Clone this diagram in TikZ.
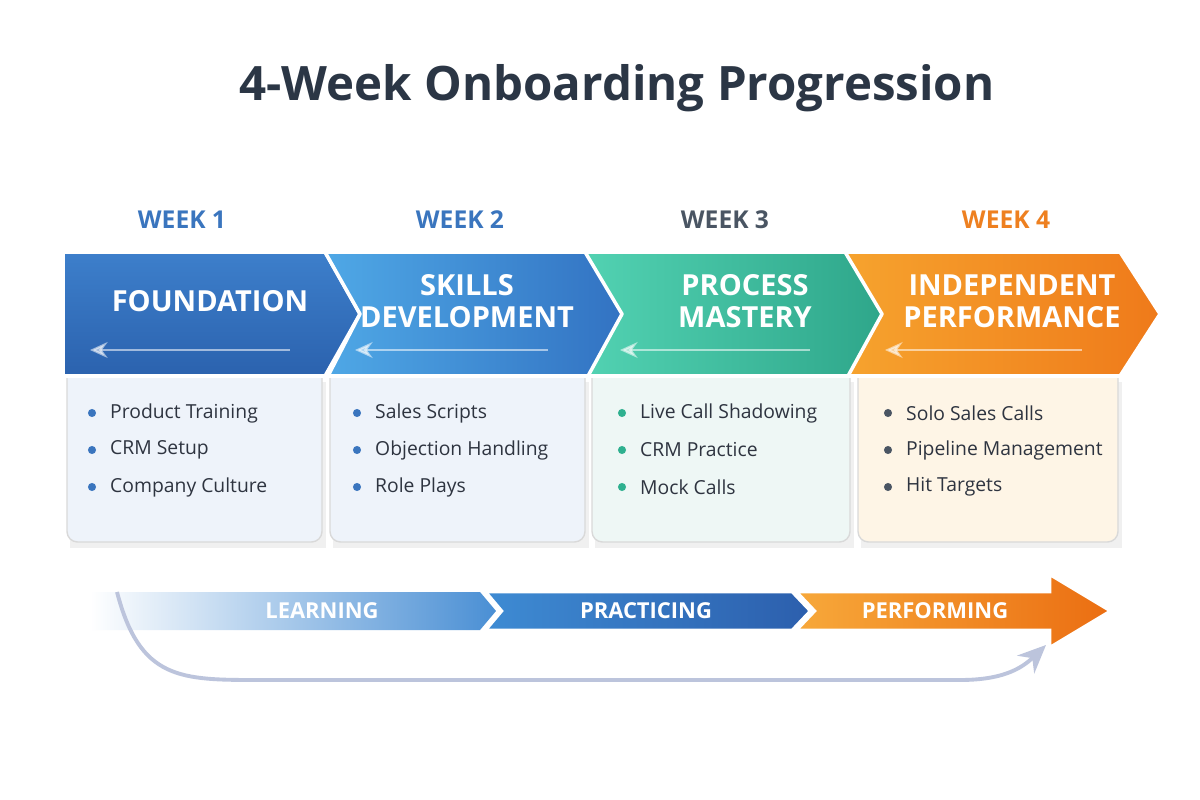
\documentclass[tikz,border=0pt]{standalone}
\usepackage{fontspec}
\setmainfont{Open Sans}
\usetikzlibrary{arrows.meta}
\definecolor{titlec}{HTML}{2B3645}
\definecolor{txt}{HTML}{2E3440}
\definecolor{wblue}{HTML}{3A75BE}
\definecolor{wgray}{HTML}{4A5563}
\definecolor{worange}{HTML}{EE8020}
\definecolor{wgreen}{HTML}{2EB08F}
\definecolor{bx1}{HTML}{EEF3FA}
\definecolor{bx3}{HTML}{EEF7F5}
\definecolor{bx4}{HTML}{FEF5E6}
\definecolor{c1a}{HTML}{3D7FCB}\definecolor{c1b}{HTML}{2B62AE}
\definecolor{c2a}{HTML}{4FA8E6}\definecolor{c2b}{HTML}{3272C2}
\definecolor{c3a}{HTML}{52D2B2}\definecolor{c3b}{HTML}{2EA68A}
\definecolor{c4a}{HTML}{F6A32E}\definecolor{c4b}{HTML}{EF7A1A}
\definecolor{l1}{HTML}{4A8FD4}
\definecolor{p1}{HTML}{3E8BD3}\definecolor{p2}{HTML}{2C5FAD}
\definecolor{f1}{HTML}{F7A83A}\definecolor{f2}{HTML}{EB6E12}
\definecolor{curvec}{HTML}{BCC4DC}
\tikzset{
  x=0.02cm,y=-0.02cm,
  wk/.style={font=\bfseries\fontsize{14}{16}\selectfont},
  chtxt/.style={text=white,font=\bfseries\fontsize{16.5}{18}\selectfont,align=center},
  item/.style={anchor=west,text=txt,font=\fontsize{11}{13}\selectfont},
  box/.style={draw=black!15,line width=0.8pt,rounded corners=6pt},
  chev/.style={draw=white,line width=2pt,line join=round},
  inarr/.style={draw=white,opacity=0.55,line width=1.3pt,-{Stealth[length=10pt,width=9pt]}},
  band/.style={draw=white,line width=1.5pt},
  bandtxt/.style={text=white,font=\bfseries\fontsize{12.5}{14}\selectfont},
}
\begin{document}
\begin{tikzpicture}
\useasboundingbox[fill=white] (0,0) rectangle (1200,800);
\node[text=titlec,font=\bfseries\fontsize{27}{32}\selectfont] (title) at (617,88) {4-Week Onboarding Progression};
\node[wk,text=wblue] (w1) at (182,220) {WEEK 1};
\node[wk,text=wblue] (w2) at (460,220) {WEEK 2};
\node[wk,text=wgray] (w3) at (725,220) {WEEK 3};
\node[wk,text=worange] (w4) at (1006,220) {WEEK 4};
\foreach \a/\b in {67/322,330/585,592/850,858/1118}
  \fill[black!6] (\a+3,382) rectangle (\b+4,548);
\draw[box,fill=bx1] (67,360) rectangle (322,542);
\draw[box,fill=bx1] (330,360) rectangle (585,542);
\draw[box,fill=bx3] (592,360) rectangle (850,542);
\draw[box,fill=bx4] (858,360) rectangle (1118,542);
\shade[top color=c1a,bottom color=c1b] (65,252)--(325,252)--(360,314)--(325,376)--(65,376)--cycle;
\draw[chev] (65,252)--(325,252)--(360,314)--(325,376)--(65,376);
\shade[left color=c2a,right color=c2b] (325,252)--(590,252)--(625,314)--(590,376)--(328,376)--(360,314)--cycle;
\draw[chev] (325,252)--(590,252)--(625,314)--(590,376)--(328,376)--(360,314)--cycle;
\shade[left color=c3a,right color=c3b] (585,252)--(850,252)--(885,314)--(850,376)--(588,376)--(622,314)--cycle;
\draw[chev] (585,252)--(850,252)--(885,314)--(850,376)--(588,376)--(622,314)--cycle;
\shade[left color=c4a,right color=c4b] (845,252)--(1120,252)--(1160,314)--(1120,376)--(848,376)--(882,314)--cycle;
\draw[chev] (845,252)--(1120,252)--(1160,314)--(1120,376)--(848,376)--(882,314)--cycle;
\node[chtxt] (c1) at (210,301) {FOUNDATION};
\node[chtxt] (c2) at (467,301) {SKILLS\\[0pt]DEVELOPMENT};
\node[chtxt] (c3) at (745,301) {PROCESS\\[0pt]MASTERY};
\node[chtxt] (c4) at (1012,301) {INDEPENDENT\\[0pt]PERFORMANCE};
\foreach \s/\e in {290/90, 548/355, 810/620, 1082/885}{
  \coordinate (as\s) at (\s,350); \coordinate (ae\s) at (\e,350);
  \draw[inarr] (as\s) -- (ae\s);}
\foreach \x/\c/\i/\j/\k in {
 92/wblue/Product Training/CRM Setup/Company Culture,
 357/wblue/Sales Scripts/Objection Handling/Role Plays,
 622/wgreen/Live Call Shadowing/CRM Practice/Mock Calls,
 888/wgray/Solo Sales Calls/Pipeline Management/Hit Targets}{
  \fill[\c] (\x,413) circle (2.3pt);
  \fill[\c] (\x,450) circle (2.3pt);
  \fill[\c] (\x,487) circle (2.3pt);
  \node[item] at (\x+12,413) {\i};
  \node[item] at (\x+12,450) {\j};
  \node[item] at (\x+12,487) {\k};}
\shade[left color=white,right color=l1] (90,592)--(480,592)--(496,611)--(480,630)--(90,630)--cycle;
\shade[left color=p1,right color=p2] (486,592)--(792,592)--(810,611)--(792,630)--(486,630)--(502,611)--cycle;
\draw[band] (486,592)--(792,592)--(810,611)--(792,630)--(486,630)--(502,611)--cycle;
\shade[left color=f1,right color=f2] (797,592)--(1050,592)--(1050,575)--(1110,611)--(1050,647)--(1050,630)--(797,630)--(815,611)--cycle;
\draw[band] (797,592)--(1050,592)--(1050,575)--(1110,611)--(1050,647)--(1050,630)--(797,630)--(815,611)--cycle;
\node[bandtxt] (b1) at (322,611) {LEARNING};
\node[bandtxt] (b2) at (646,611) {PRACTICING};
\node[bandtxt] (b3) at (935,611) {PERFORMING};
\coordinate (cs) at (117,592);
\coordinate (ce) at (1046,645);
\draw[draw=curvec,line width=2.2pt,-{Stealth[length=16pt,width=14pt]}] (cs) .. controls (140,680) and (180,680) .. (260,680) -- (960,680) .. controls (1000,680) and (1020,670) .. (ce);
\end{tikzpicture}
\end{document}
